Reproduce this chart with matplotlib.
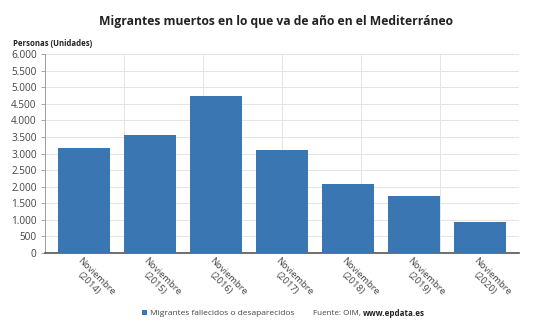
import numpy as np
import matplotlib.pyplot as plt
from matplotlib.ticker import FuncFormatter

anios = ["2014", "2015", "2016", "2017", "2018", "2019", "2020"]
etiquetas = ["Noviembre\n(" + a + ")" for a in anios]
muertos = [3170, 3550, 4740, 3110, 2070, 1710, 950]

plt.rcParams['font.family'] = ['Open Sans', 'DejaVu Sans']

azul = "#3a77b2"
gris_texto = "#444444"

fig = plt.figure(figsize=(5.37, 3.33), dpi=100)
ax = fig.add_axes([0.0838, 0.2402, 0.8827, 0.5976])

x = np.arange(len(anios))
barras = ax.bar(x, muertos, width=0.79, color=azul, zorder=3,
                label="Migrantes fallecidos o desaparecidos")

margen = 0.59
ax.set_xlim(-margen, len(anios) - 1 + margen)
ax.set_ylim(0, 6000)
ax.set_yticks(np.arange(0, 6001, 500))
ax.yaxis.set_major_formatter(FuncFormatter(lambda v, p: "{:,.0f}".format(v).replace(",", ".")))
ax.tick_params(axis="y", labelsize=7.2, colors="#999999", labelcolor=gris_texto, length=3, width=0.6, pad=3)
ax.grid(axis="y", color="#e4e4e4", lw=0.7, zorder=0)

# rejilla vertical en seis tramos iguales
for xv in np.linspace(-margen, len(anios) - 1 + margen, 7)[1:-1]:
    ax.axvline(xv, color="#e4e4e4", lw=0.7, zorder=0)

ax.set_xticks(x)
ax.set_xticklabels([])
ax.tick_params(axis="x", length=0)
for xi, lab in zip(x, etiquetas):
    ax.annotate(lab, xy=(xi, 0), xycoords=("data", "axes fraction"),
                xytext=(-1.5, -2), textcoords="offset points",
                rotation=-45, rotation_mode="anchor", ha="left", va="top",
                multialignment="center", fontsize=6.8, color=gris_texto)

for s in ["top", "right"]:
    ax.spines[s].set_visible(False)
ax.spines["left"].set_color("#9a9a9a")
ax.spines["left"].set_linewidth(0.7)
ax.spines["bottom"].set_color("#555555")
ax.spines["bottom"].set_linewidth(1.2)

fig.text(0.514, 0.935, "Migrantes muertos en lo que va de año en el Mediterráneo",
         ha="center", va="center", fontsize=8.7, fontweight="bold", color="#222222")
fig.text(0.024, 0.868, "Personas (Unidades)", ha="left", va="center",
         fontsize=5.6, fontweight="bold", color="#222222")

y_pie = 0.058
fig.legend(handles=[barras], loc="center right", bbox_to_anchor=(0.556, y_pie),
           frameon=False, fontsize=6.0, handlelength=0.6, handleheight=0.6,
           handletextpad=0.4, borderpad=0, labelcolor=gris_texto)
fuente = fig.text(0.582, y_pie, "Fuente: OIM, ", ha="left", va="center", fontsize=5.8, color=gris_texto)
fig.canvas.draw()
bb = fuente.get_window_extent().transformed(fig.transFigure.inverted())
fig.text(bb.x1, y_pie, "www.epdata.es", ha="left", va="center", fontsize=5.8,
         fontweight="bold", color="#222222")

fig.savefig("out.png", dpi=100, facecolor="white")
